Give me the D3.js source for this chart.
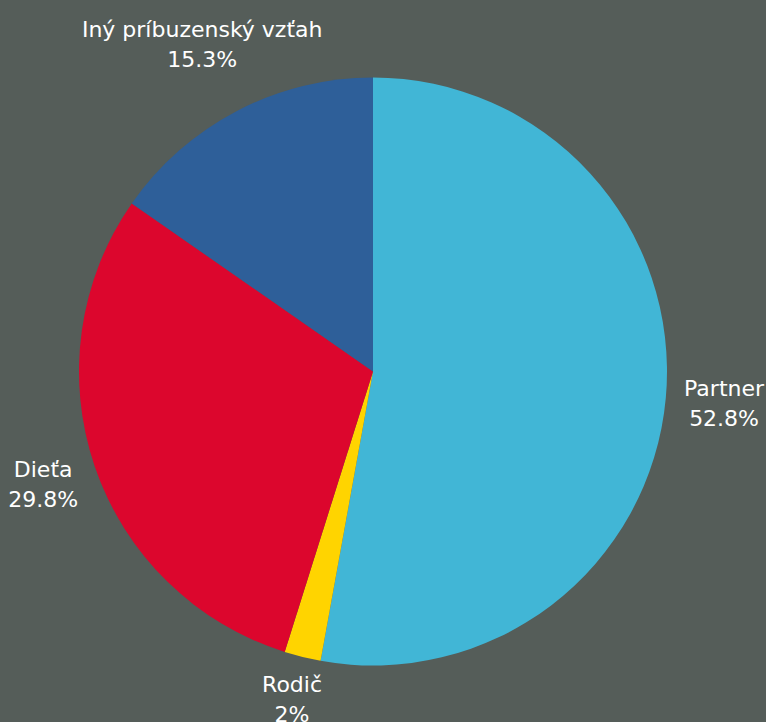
<!DOCTYPE html>
<html>
<head>
<meta charset="utf-8">
<script src="https://cdn.jsdelivr.net/npm/d3@7/dist/d3.min.js"></script>
<style>
  html, body { margin: 0; padding: 0; background: #555d59; }
  svg { display: block; }
</style>
</head>
<body>
<svg id="chart" width="766" height="722"></svg>
<script>
const categories = ["Partner", "Rodič", "Dieťa", "Iný príbuzenský vzťah"];
const values = [52.8, 2, 29.8, 15.3];
const valueLabels = ["52.8%", "2%", "29.8%", "15.3%"];
const colors = ["#41b6d6", "#ffd400", "#dc062d", "#2e5f99"];

const W = 766, H = 722;
const cx = 373, cy = 371.5, radius = 294;

const svg = d3.select("#chart");
svg.append("rect").attr("width", W).attr("height", H).attr("fill", "#555d59");

const data = categories.map((c, i) => ({ name: c, value: values[i], label: valueLabels[i], color: colors[i] }));

const pie = d3.pie().value(d => d.value).sort(null);
const arcs = pie(data);
const arc = d3.arc().innerRadius(0).outerRadius(radius);

const g = svg.append("g").attr("transform", `translate(${cx},${cy})`);

g.selectAll("path.slice")
  .data(arcs)
  .join("path")
  .attr("class", "slice")
  .attr("d", arc)
  .attr("fill", d => d.data.color);

// labels around the pie
const lab = g.selectAll("text.lab")
  .data(arcs)
  .join("text")
  .attr("class", "lab")
  .attr("text-anchor", "middle")
  .attr("fill", "#ffffff")
  .style("font-family", "'DejaVu Sans', sans-serif")
  .style("font-size", "22px")
  .attr("transform", d => {
    const a = (d.startAngle + d.endAngle) / 2;
    const up = Math.cos(a);
    const R = 354 + 17 * up;
    const x = R * Math.sin(a);
    const y = -R * up;
    return `translate(${x},${y - 7})`;
  });

lab.append("tspan").attr("x", 0).attr("y", 0).text(d => d.data.name);
lab.append("tspan").attr("x", 0).attr("y", 30).text(d => d.data.label);
</script>
</body>
</html>
